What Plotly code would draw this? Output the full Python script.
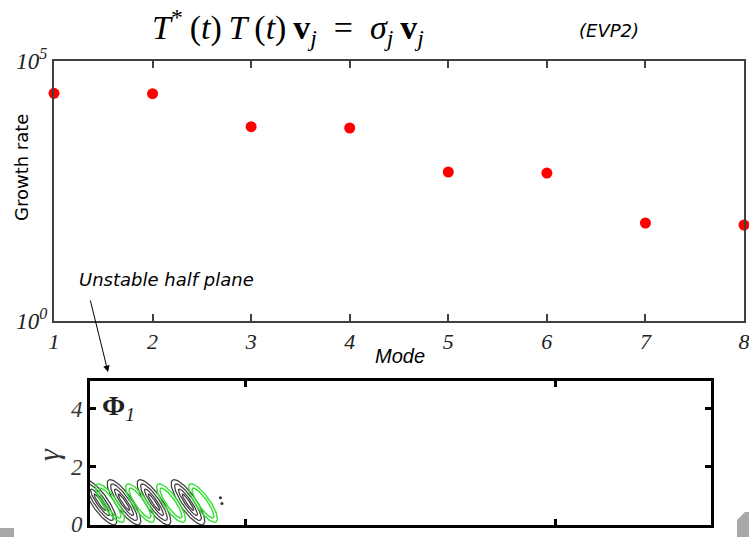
import numpy as np
import plotly.graph_objects as go

W, H = 749, 537

# ---- data (top chart) ----
modes = [1, 2, 3, 4, 5, 6, 7, 8]
growth_rate = [23900, 23500, 5450, 5150, 733, 701, 76.7, 70.2]
x_ticks = [1, 2, 3, 4, 5, 6, 7, 8]
y_tickvals = [1, 100000]
y_ticktext = ["10<sup>0</sup>", "10<sup>5</sup>"]

# ---- data (bottom inset: contour blobs of phi_1) ----
green_cx = [0.129, 0.322, 0.522, 0.728]
green_cy = [0.73, 0.73, 0.73, 0.73]
black_cx = [0.064, 0.219, 0.412, 0.631]
black_cy = [0.76, 0.76, 0.76, 0.76]
dots_x = [0.84, 0.85]
dots_y = [0.92, 0.72]
inset_yticks = [0, 2, 4]
inset_xticks = [1, 3]

X2_RANGE = [0, 4]
Y2_RANGE = [-0.03, 4.97]
px_per_x = (711 - 90) / (X2_RANGE[1] - X2_RANGE[0])
px_per_y = (525 - 381) / (Y2_RANGE[1] - Y2_RANGE[0])


def ellipse(cx, cy, a, b, theta_deg=55):
    t = np.linspace(0, 2 * np.pi, 90)
    th = np.deg2rad(theta_deg)
    u = a * np.cos(t)
    v = b * np.sin(t)
    dx = u * np.cos(th) - v * np.sin(th)
    dy = u * np.sin(th) + v * np.cos(th)  # pixels, downward
    return cx + dx / px_per_x, cy - dy / px_per_y


fig = go.Figure()

fig.add_trace(go.Scatter(
    x=modes, y=growth_rate, mode="markers",
    marker=dict(color="#ff0000", size=11, line=dict(width=0)),
    cliponaxis=False, xaxis="x", yaxis="y", showlegend=False,
))

for cx, cy in zip(black_cx, black_cy):
    for a, b in [(27, 8), (22, 5.5), (16, 3.2), (10, 1.6)]:
        ex, ey = ellipse(cx, cy, a, b)
        fig.add_trace(go.Scatter(x=ex, y=ey, mode="lines",
                                 line=dict(color="#3a3a3a", width=1.2),
                                 xaxis="x2", yaxis="y2", showlegend=False,
                                 hoverinfo="skip"))
for cx, cy in zip(green_cx, green_cy):
    for a, b in [(23, 7), (18, 4.5)]:
        ex, ey = ellipse(cx, cy, a, b)
        fig.add_trace(go.Scatter(x=ex, y=ey, mode="lines",
                                 line=dict(color="#33e033", width=1.4),
                                 xaxis="x2", yaxis="y2", showlegend=False,
                                 hoverinfo="skip"))
fig.add_trace(go.Scatter(x=dots_x, y=dots_y, mode="markers",
                         marker=dict(color="#333", size=3),
                         xaxis="x2", yaxis="y2", showlegend=False))


def px(x):
    return x / W


def py(y):
    return 1 - y / H


axis_col = "#404040"
fig.update_layout(
    width=W, height=H, autosize=False,
    margin=dict(l=0, r=0, t=0, b=0, autoexpand=False),
    paper_bgcolor="white", plot_bgcolor="white",
    xaxis=dict(
        domain=[px(54), px(744)], range=[1, 8], anchor="y", automargin=False,
        tickvals=x_ticks, ticktext=[str(v) for v in x_ticks],
        ticks="inside", ticklen=7, tickwidth=1.5, tickcolor=axis_col,
        showline=True, linecolor=axis_col, linewidth=2, mirror="ticks",
        showgrid=False, zeroline=False, ticklabeloverflow="allow",
        tickfont=dict(family="Liberation Serif", size=22, color="#222", style="italic"),
    ),
    yaxis=dict(
        domain=[py(321), py(61)], type="log", range=[0, 5], anchor="x", automargin=False,
        tickvals=y_tickvals, ticktext=y_ticktext,
        ticks="", showline=True, linecolor=axis_col, linewidth=2, mirror=True,
        showgrid=False, zeroline=False, ticklabeloverflow="allow",
        tickfont=dict(family="Liberation Serif", size=23, color="#222", style="italic"),
    ),
    xaxis2=dict(
        domain=[px(90), px(711)], range=X2_RANGE, anchor="y2", automargin=False,
        tickvals=inset_xticks, showticklabels=False,
        ticks="inside", ticklen=6, tickwidth=3, tickcolor="black",
        showline=True, linecolor="black", linewidth=3, mirror="ticks",
        showgrid=False, zeroline=False,
    ),
    yaxis2=dict(
        domain=[py(525), py(381)], range=Y2_RANGE, anchor="x2", automargin=False,
        tickvals=inset_yticks, ticklabeloverflow="allow",
        ticks="inside", ticklen=6, tickwidth=3, tickcolor="black",
        showline=True, linecolor="black", linewidth=3, mirror="ticks",
        showgrid=False, zeroline=False,
        tickfont=dict(family="Liberation Serif", size=23, color="#333", style="italic"),
    ),
    font=dict(family="DejaVu Sans", color="black"),
)

ts = "&#8201;"
title_text = (f"<i>T</i><sup>*</sup>{ts}(<i>t</i>){ts}<i>T</i>{ts}(<i>t</i>){ts}<b>v</b><sub><i>j</i></sub>"
              f"&nbsp;&nbsp;=&nbsp;&nbsp;<i>σ<sub>j</sub></i>{ts}<b>v</b><sub><i>j</i></sub>")

annotations = [
    dict(x=px(288), y=py(28), text=title_text,
         font=dict(family="Liberation Serif", size=34, color="black")),
    dict(x=px(609), y=py(30), text="<i>(EVP2)</i>",
         font=dict(family="DejaVu Sans", size=18, color="black")),
    dict(x=px(21), y=py(168), text="Growth rate", textangle=-90,
         font=dict(family="DejaVu Sans", size=18, color="black")),
    dict(x=px(400), y=py(356), text="<i>Mode</i>",
         font=dict(family="Liberation Sans", size=20, color="black")),
    dict(x=px(166), y=py(279), text="<i>Unstable half plane</i>",
         font=dict(family="DejaVu Sans", size=18, color="black")),
    dict(x=px(48), y=py(455), text="<i>γ</i>", textangle=-90,
         font=dict(family="Liberation Serif", size=30, color="#333")),
    dict(x=px(118), y=py(407), text="<b>Φ</b><sub><i>1</i></sub>",
         font=dict(family="Liberation Serif", size=28, color="#222")),
    dict(x=px(108), y=py(372), ax=-18, ay=-73, text="", showarrow=True,
         arrowhead=2, arrowsize=1.3, arrowwidth=1, arrowcolor="black"),
]
for a in annotations:
    a.setdefault("xref", "paper")
    a.setdefault("yref", "paper")
    a.setdefault("showarrow", False)
    a.setdefault("xanchor", "center")
    a.setdefault("yanchor", "middle")
fig.update_layout(annotations=annotations)

# slide decorations (grey corner tabs)
fig.update_layout(shapes=[
    dict(type="rect", xref="paper", yref="paper",
         x0=0, x1=px(14), y0=0, y1=py(528),
         fillcolor="#a8a8a8", line=dict(width=0)),
    dict(type="path", xref="paper", yref="paper",
         path=f"M {px(737)},{py(537)} L {px(737)},{py(520)} L {px(745)},{py(512)} L {px(749)},{py(512)} L {px(749)},{py(537)} Z",
         fillcolor="#a8a8a8", line=dict(width=0)),
])

fig.write_html("out.html")
